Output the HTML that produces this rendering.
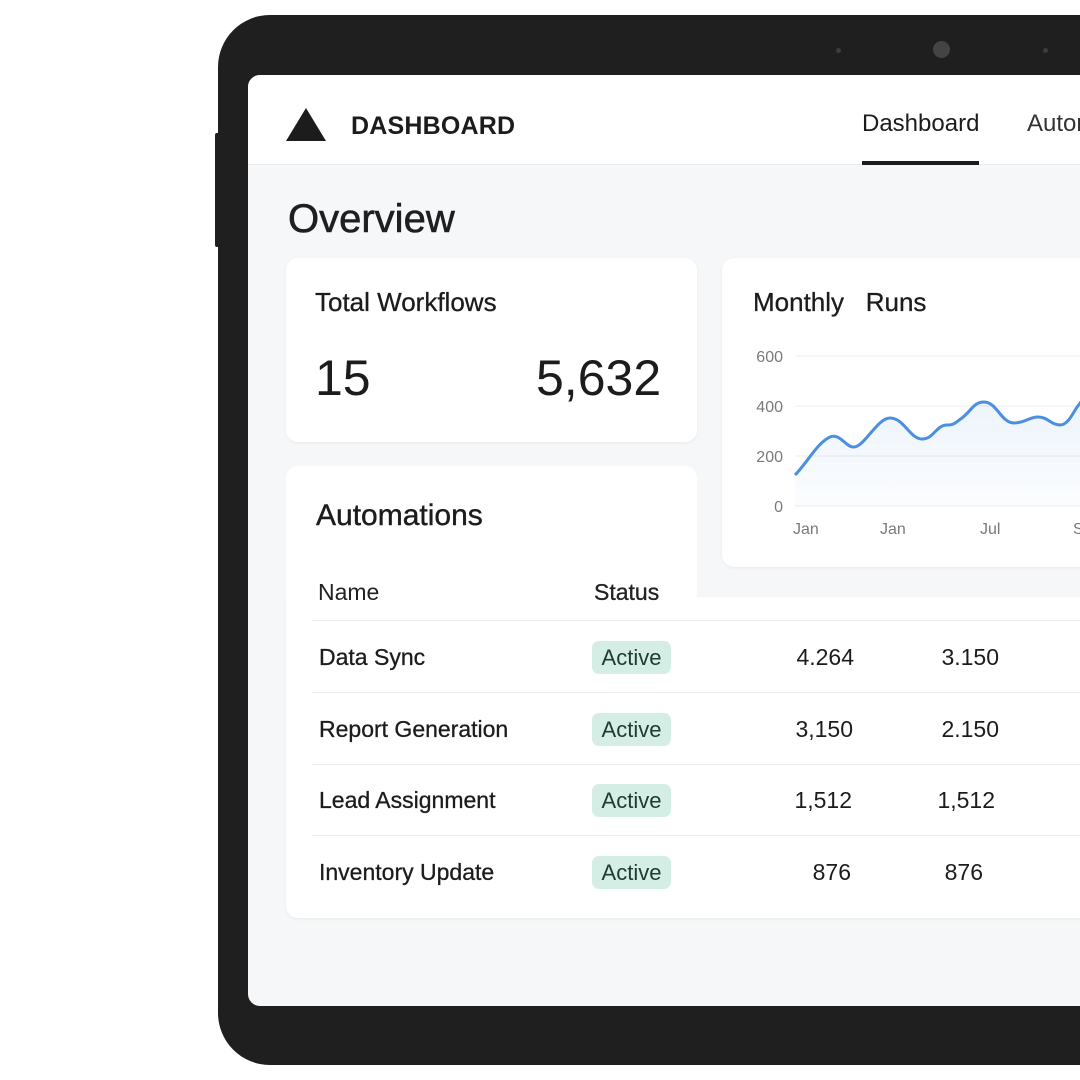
<!DOCTYPE html>
<html><head><meta charset="utf-8"><style>
*{margin:0;padding:0;box-sizing:border-box}
html,body{width:1080px;height:1080px;overflow:hidden}
body{background:#fff;position:relative;font-family:"Liberation Sans",sans-serif;color:#1c1c1e}
#w{position:absolute;left:0;top:0;width:1080px;height:1080px;overflow:hidden}
.a{position:absolute}
.t{position:absolute;white-space:nowrap}
.badge{position:absolute;left:592px;width:79px;height:33px;background:#d4eee5;border-radius:7px;font-size:22px;color:#223a33;text-align:center;line-height:33px}
.row{font-size:23px}
.num{position:absolute;font-size:23px;text-align:right;white-space:nowrap}
</style></head><body><div id="w">
<div class="a" style="left:215px;top:133px;width:8px;height:114px;background:#1f1f1f;border-radius:2px"></div>
<div class="a" style="left:218px;top:15px;width:920px;height:1050px;background:#1f1f1f;border-radius:52px"></div>
<div class="a" style="left:836px;top:48px;width:5px;height:5px;border-radius:50%;background:#3d3d3d"></div>
<div class="a" style="left:933px;top:41px;width:17px;height:17px;border-radius:50%;background:#444"></div>
<div class="a" style="left:1043px;top:48px;width:5px;height:5px;border-radius:50%;background:#3d3d3d"></div>
<div class="a" style="left:248px;top:75px;width:900px;height:931px;background:#f6f7f8;border-radius:12px;overflow:hidden">
  <div class="a" style="left:0;top:0;width:900px;height:90px;background:#fff;border-bottom:1px solid #ececec"></div>
</div>
<div class="a" style="left:286px;top:108px;width:0;height:0;border-left:20px solid transparent;border-right:20px solid transparent;border-bottom:33px solid #1c1c1c"></div>
<div class="t" style="left:351px;top:112px;font-size:25px;font-weight:bold;letter-spacing:0.2px;-webkit-text-stroke:0;font-weight:600">DASHBOARD</div>
<div class="t" style="left:862px;top:110px;font-size:24px">Dashboard</div>
<div class="a" style="left:862px;top:161px;width:117px;height:4px;background:#1c1c1c"></div>
<div class="t" style="left:1027px;top:110px;font-size:24px;color:#333">Automations</div>
<div class="t" style="left:288px;top:197px;font-size:40px;color:#1f1f1f;-webkit-text-stroke:0.6px #1f1f1f">Overview</div>
<div class="a" style="left:286px;top:258px;width:411px;height:184px;background:#fff;border-radius:12px;box-shadow:0 1px 3px rgba(0,0,0,.05)"></div>
<div class="t" style="left:315px;top:287px;font-size:26px;-webkit-text-stroke:0.3px #1c1c1e">Total Workflows</div>
<div class="t" style="left:315px;top:349px;font-size:50px">15</div>
<div class="t" style="left:536px;top:349px;font-size:50px">5,632</div>
<div class="a" style="left:722px;top:258px;width:420px;height:309px;background:#fff;border-radius:12px;box-shadow:0 1px 3px rgba(0,0,0,.05)"></div>
<div class="t" style="left:753px;top:287px;font-size:26px;-webkit-text-stroke:0.3px #1c1c1e">Monthly&nbsp;&nbsp; Runs</div>
<svg class="a" style="left:722px;top:258px" width="358" height="309">
<defs><linearGradient id="g" x1="0" y1="0" x2="0" y2="1"><stop offset="0" stop-color="#4a8fe0" stop-opacity=".1"/><stop offset="1" stop-color="#4a8fe0" stop-opacity=".02"/></linearGradient></defs>
<g stroke="#ececec" stroke-width="1"><line x1="73" y1="98" x2="360" y2="98"/><line x1="73" y1="148" x2="360" y2="148"/><line x1="73" y1="198" x2="360" y2="198"/><line x1="73" y1="248" x2="360" y2="248"/></g>
<g font-size="16" fill="#7a7a7a" font-family="Liberation Sans"><text x="61" y="104" text-anchor="end">600</text><text x="61" y="154" text-anchor="end">400</text><text x="61" y="204" text-anchor="end">200</text><text x="61" y="254" text-anchor="end">0</text>
<text x="71" y="276">Jan</text><text x="158" y="276">Jan</text><text x="258" y="276">Jul</text><text x="351" y="276">S</text></g>
<path d="M73 217 C85 205,95 185,108 179 C118 175,124 189,131 189 C142 190,155 160,168 160 C182 160,188 181,200 181 C212 181,214 167,225 167 C232 167,233 165,240 160 C250 152,252 144,262 144 C275 144,279 165,292 165 C303 165,307 159,316 159 C326 159,329 167,338 167 C348 167,352 150,360 143 L360 248 L73 248 Z" fill="url(#g)"/>
<path d="M73 217 C85 205,95 185,108 179 C118 175,124 189,131 189 C142 190,155 160,168 160 C182 160,188 181,200 181 C212 181,214 167,225 167 C232 167,233 165,240 160 C250 152,252 144,262 144 C275 144,279 165,292 165 C303 165,307 159,316 159 C326 159,329 167,338 167 C348 167,352 150,360 143" fill="none" stroke="#4a8fe0" stroke-width="3"/>
</svg>
<div class="a" style="left:286px;top:466px;width:411px;height:200px;background:#fff;border-radius:12px"></div>
<div class="a" style="left:286px;top:597px;width:860px;height:321px;background:#fff;border-radius:0 0 12px 12px;box-shadow:0 1px 3px rgba(0,0,0,.05)"></div>
<div class="t" style="left:316px;top:499px;font-size:30px;-webkit-text-stroke:0.4px #1c1c1e">Automations</div>
<div class="t" style="left:318px;top:579px;font-size:23px;color:#222">Name</div>
<div class="t" style="left:594px;top:579px;font-size:23px;color:#222;-webkit-text-stroke:0.3px #222">Status</div>
<div class="a" style="left:312px;top:620px;width:770px;height:1px;background:#ececec"></div>
<div class="a" style="left:312px;top:692px;width:770px;height:1px;background:#ececec"></div>
<div class="a" style="left:312px;top:764px;width:770px;height:1px;background:#ececec"></div>
<div class="a" style="left:312px;top:835px;width:770px;height:1px;background:#ececec"></div>
<div class="t row" style="left:319px;top:644px;-webkit-text-stroke:0.3px #1c1c1e">Data Sync</div>
<div class="t row" style="left:319px;top:716px;-webkit-text-stroke:0.3px #1c1c1e">Report Generation</div>
<div class="t row" style="left:319px;top:787px;-webkit-text-stroke:0.3px #1c1c1e">Lead Assignment</div>
<div class="t row" style="left:319px;top:859px;-webkit-text-stroke:0.3px #1c1c1e">Inventory Update</div>
<div class="badge" style="top:641px">Active</div>
<div class="badge" style="top:713px">Active</div>
<div class="badge" style="top:784px">Active</div>
<div class="badge" style="top:856px">Active</div>
<div class="num" style="right:226px;top:644px">4.264</div>
<div class="num" style="right:81px;top:644px">3.150</div>
<div class="num" style="right:227px;top:716px">3,150</div>
<div class="num" style="right:81px;top:716px">2.150</div>
<div class="num" style="right:228px;top:787px">1,512</div>
<div class="num" style="right:85px;top:787px">1,512</div>
<div class="num" style="right:229px;top:859px">876</div>
<div class="num" style="right:97px;top:859px">876</div>
</div></body></html>
